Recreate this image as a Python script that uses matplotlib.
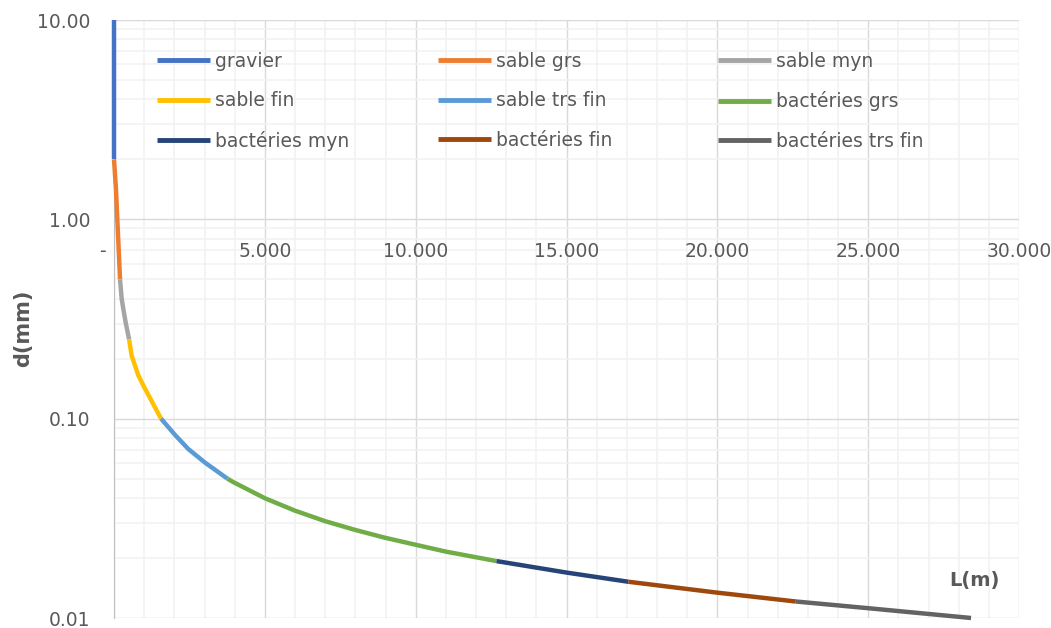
import matplotlib.pyplot as plt
from matplotlib.ticker import FixedLocator, NullFormatter

plt.rcParams['font.family'] = ['DejaVu Sans']

# Grain size d (mm) against length L (m), one segment per material class
series_names = ['gravier', 'sable grs', 'sable myn', 'sable fin', 'sable trs fin',
                'bactéries grs', 'bactéries myn', 'bactéries fin', 'bactéries trs fin']
series_colors = ['#4472C4', '#ED7D31', '#A5A5A5', '#FFC000', '#5B9BD5',
                 '#70AD47', '#264478', '#9E480E', '#636363']

L_gravier = [0, 0]
d_gravier = [10.0, 2.0]
L_sable_grs = [0, 66, 110, 155, 200]
d_sable_grs = [2.0, 1.41, 1.0, 0.71, 0.5]
L_sable_myn = [200, 254, 309, 386, 500]
d_sable_myn = [0.5, 0.40, 0.355, 0.304, 0.25]
L_sable_fin = [500, 585, 806, 990, 1560]
d_sable_fin = [0.25, 0.207, 0.165, 0.145, 0.1]
L_sable_trs_fin = [1560, 2020, 2460, 3010, 3760]
d_sable_trs_fin = [0.1, 0.083, 0.0705, 0.0603, 0.05]
L_bact_grs = [3760, 3950, 5000, 5990, 7000, 7980, 8970, 10000, 11020, 12680]
d_bact_grs = [0.05, 0.0481, 0.0399, 0.0346, 0.0306, 0.0277, 0.0253, 0.0233, 0.0215, 0.0193]
L_bact_myn = [12680, 15000, 17050]
d_bact_myn = [0.0193, 0.0169, 0.0152]
L_bact_fin = [17050, 20000, 22600]
d_bact_fin = [0.0152, 0.0134, 0.0121]
L_bact_trs_fin = [22600, 25000, 28410]
d_bact_trs_fin = [0.0121, 0.0112, 0.0100]

series_L = [L_gravier, L_sable_grs, L_sable_myn, L_sable_fin, L_sable_trs_fin,
            L_bact_grs, L_bact_myn, L_bact_fin, L_bact_trs_fin]
series_d = [d_gravier, d_sable_grs, d_sable_myn, d_sable_fin, d_sable_trs_fin,
            d_bact_grs, d_bact_myn, d_bact_fin, d_bact_trs_fin]

x_ticks = [0, 5000, 10000, 15000, 20000, 25000, 30000]
x_tick_labels = ['-', '5.000', '10.000', '15.000', '20.000', '25.000', '30.000']
y_ticks = [0.01, 0.1, 1, 10]
y_tick_labels = ['0.01', '0.10', '1.00', '10.00']

text_color = '#595959'
fs = 13.5

fig = plt.figure(figsize=(10.51, 6.28), dpi=100)
ax = fig.add_axes([114 / 1051, 10 / 628, 905 / 1051, 598 / 628])

lines = []
for L, d, name, color in zip(series_L, series_d, series_names, series_colors):
    ln, = ax.plot(L, d, color=color, lw=3.2, label=name, solid_capstyle='butt',
                  solid_joinstyle='round', clip_on=False, zorder=3)
    lines.append(ln)

ax.set_yscale('log')
ax.set_xlim(0, 30000)
ax.set_ylim(0.01, 10)

ax.yaxis.set_major_locator(FixedLocator(y_ticks))
ax.set_yticklabels(y_tick_labels)
ax.yaxis.set_minor_locator(FixedLocator(
    [m * 10.0 ** e for e in (-2, -1, 0) for m in range(2, 10)]))
ax.yaxis.set_minor_formatter(NullFormatter())

ax.xaxis.set_major_locator(FixedLocator(x_ticks))
ax.xaxis.set_major_formatter(NullFormatter())
ax.xaxis.set_minor_locator(FixedLocator(range(0, 30001, 1000)))

ax.spines['left'].set_color('#BFBFBF')
for side in ('top', 'right', 'bottom'):
    ax.spines[side].set_visible(False)

ax.tick_params(axis='both', which='both', length=0, labelsize=fs, labelcolor=text_color)
ax.tick_params(axis='y', pad=17)

ax.set_axisbelow(True)
ax.grid(which='minor', color='#F2F2F2', lw=1.2)
ax.grid(which='major', color='#D9D9D9', lw=1.0)

# horizontal axis labels sit just under the d = 1 line, above the gridlines
for x, lbl in zip(x_ticks, x_tick_labels):
    dx = -8 if x == 0 else 0
    ax.annotate(lbl, xy=(x, 1), xycoords='data', xytext=(dx, -23),
                textcoords='offset points', ha='center', va='center',
                fontsize=fs, color=text_color, zorder=5, annotation_clip=False)

ax.text(-0.1, 0.485, 'd(mm)', transform=ax.transAxes, rotation=90,
        ha='center', va='center', fontsize=15, fontweight='bold', color=text_color)
ax.text(0.951, 0.062, 'L(m)', transform=ax.transAxes,
        ha='center', va='center', fontsize=14, fontweight='bold', color=text_color)

# legend laid out row by row in three columns
col_x = [(157 - 114) / 905, (438 - 114) / 905, (718 - 114) / 905]
for c in range(3):
    idx = [c, c + 3, c + 6]
    leg = ax.legend([lines[i] for i in idx], [series_names[i] for i in idx],
                    loc='upper left', bbox_to_anchor=(col_x[c], 0.947),
                    frameon=False, borderpad=0, borderaxespad=0,
                    handlelength=2.83, handletextpad=0.27, labelspacing=1.1,
                    fontsize=fs, labelcolor=text_color)
    for h in leg.legend_handles:
        h.set_linewidth(3.5)
    if c < 2:
        ax.add_artist(leg)

fig.savefig('out.png', dpi=100)
